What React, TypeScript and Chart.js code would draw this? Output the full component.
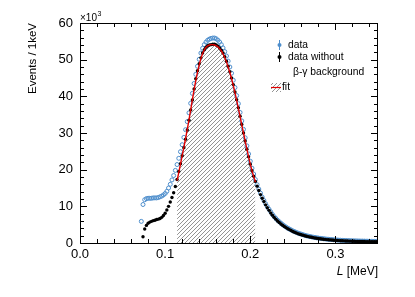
import React, { useEffect, useRef } from "react";
import { Chart, registerables } from "chart.js";

Chart.register(...registerables);

const FONT = "'Liberation Sans', Arial, Helvetica, sans-serif";

// bins of 2 keV, first bin centre at L = 0.072 MeV
const BIN_START = 0.072;
const BIN_WIDTH = 0.002;

// "data" (with β-γ background), in units of 10^3 events / 1keV
const dataWithBg: number[] = [
  5.9, 10.5, 11.8, 12.1, 12.2, 12.2, 12.2, 12.3, 12.3, 12.3,
  12.4, 12.6, 12.8, 13.1, 13.5, 14.1, 15.0, 16.0, 17.2, 18.4,
  19.8, 21.4, 23.1, 24.9, 26.8, 28.8, 30.9, 33.1, 35.5, 38.1,
  40.8, 43.5, 46.0, 48.2, 50.1, 51.8, 53.1, 54.1, 54.8, 55.3,
  55.6, 55.8, 55.9, 55.9, 55.7, 55.3, 54.8, 54.1, 53.2, 52.2,
  51.0, 49.6, 48.0, 46.3, 44.4, 42.4, 40.2, 38.0, 35.6, 33.3,
  31.0, 28.7, 26.5, 24.3, 22.3, 20.4, 18.8, 17.3, 15.9, 14.7,
  13.6, 12.5, 11.6, 10.7, 9.9, 9.2, 8.5, 7.8, 7.2, 6.7,
  6.2, 5.8, 5.4, 5.0, 4.65, 4.35, 4.05, 3.8, 3.55, 3.3,
  3.1, 2.9, 2.7, 2.55, 2.4, 2.25, 2.1, 1.98, 1.87, 1.77,
  1.67, 1.58, 1.5, 1.42, 1.35, 1.28, 1.22, 1.16, 1.1, 1.05,
  1.0, 0.96, 0.92, 0.88, 0.84, 0.81, 0.78, 0.75, 0.72, 0.7,
  0.68, 0.66, 0.64, 0.62, 0.6, 0.58, 0.57, 0.55, 0.54, 0.53,
  0.52, 0.51, 0.5, 0.49, 0.48, 0.47, 0.46, 0.45, 0.45, 0.44,
];

// "data without β-γ background"
const dataNoBg: (number | null)[] = [
  null, 1.7, 3.8, 4.8, 5.4, 5.7, 5.9, 6.1, 6.2, 6.4,
  6.5, 6.7, 7.0, 7.5, 8.1, 9.0, 10.0, 11.2, 12.4, 13.7,
  15.4, 17.3, 19.5, 21.6, 23.8, 26.0, 28.3, 30.8, 33.5, 36.3,
  39.0, 42.0, 44.8, 47.0, 48.9, 50.5, 51.8, 52.7, 53.4, 53.8,
  54.0, 54.1, 54.2, 54.2, 54.0, 53.7, 53.2, 52.6, 51.8, 50.8,
  49.6, 48.2, 46.7, 45.0, 43.2, 41.2, 39.1, 36.9, 34.6, 32.3,
  30.0, 27.8, 25.6, 23.5, 21.5, 19.7, 18.2, 16.8, 15.5, 14.3,
  13.2, 12.2, 11.3, 10.4, 9.6, 8.9, 8.2, 7.6, 7.0, 6.5,
  6.0, 5.6, 5.2, 4.85, 4.5, 4.2, 3.9, 3.65, 3.4, 3.15,
  2.95, 2.75, 2.55, 2.4, 2.25, 2.1, 1.97, 1.85, 1.74, 1.64,
  1.55, 1.46, 1.38, 1.3, 1.23, 1.16, 1.1, 1.04, 0.98, 0.93,
  0.88, 0.84, 0.8, 0.76, 0.72, 0.69, 0.66, 0.63, 0.6, 0.58,
  0.56, 0.54, 0.52, 0.5, 0.48, 0.46, 0.45, 0.43, 0.42, 0.41,
  0.4, 0.39, 0.38, 0.37, 0.36, 0.35, 0.34, 0.33, 0.33, 0.32,
];

// fit curve, from L = 0.114 to 0.206 MeV in 2 keV steps
const FIT_START = 0.114;
const fitValues: number[] = [
  17.0, 19.2, 21.5, 23.8, 26.1, 28.5, 31.0, 33.6, 36.3, 39.1,
  41.8, 44.3, 46.6, 48.6, 50.3, 51.7, 52.7, 53.4, 53.8, 54.0,
  54.1, 54.1, 54.0, 53.8, 53.5, 53.0, 52.4, 51.6, 50.6, 49.4,
  48.0, 46.5, 44.8, 43.0, 41.0, 38.9, 36.7, 34.5, 32.2, 30.0,
  27.8, 25.6, 23.5, 21.5, 19.7, 18.1, 16.6,
];

const xTickValues = [0, 0.1, 0.2, 0.3];
const yTickValues = [0, 10, 20, 30, 40, 50, 60];

const BLUE = "rgb(78,142,204)";
const RED = "rgb(225,0,0)";

function makeHatch(): CanvasPattern | string {
  const s = 4;
  const c = document.createElement("canvas");
  c.width = s;
  c.height = s;
  const g = c.getContext("2d");
  if (!g) return "rgba(128,128,128,0.4)";
  g.strokeStyle = "rgb(120,120,120)";
  g.lineWidth = 0.8;
  g.beginPath();
  g.moveTo(0, s);
  g.lineTo(s, 0);
  g.moveTo(-1, 1);
  g.lineTo(1, -1);
  g.moveTo(s - 1, s + 1);
  g.lineTo(s + 1, s - 1);
  g.stroke();
  return g.createPattern(c, "repeat") || "rgba(128,128,128,0.4)";
}

export default function App() {
  const ref = useRef<HTMLCanvasElement | null>(null);

  useEffect(() => {
    const canvas = ref.current;
    if (!canvas) return;
    const hatch = makeHatch();

    const toPts = (arr: (number | null)[], start: number) =>
      arr
        .map((y, i) => ({ x: +(start + i * BIN_WIDTH).toFixed(4), y }))
        .filter((p) => p.y !== null) as { x: number; y: number }[];

    const withBg = toPts(dataWithBg, BIN_START);
    const noBg = toPts(dataNoBg, BIN_START);
    const fit = toPts(fitValues, FIT_START);

    const framePlugin = {
      id: "rootFrame",
      afterDatasetsDraw(chart: any) {
        const ctx = chart.ctx as CanvasRenderingContext2D;
        const { left, right, top, bottom } = chart.chartArea;
        const xs = chart.scales.x;
        const ys = chart.scales.y;
        ctx.save();
        ctx.strokeStyle = "#000";
        ctx.lineWidth = 1;
        ctx.beginPath();
        for (let i = 0; i <= 17; i++) {
          const v = i * 0.02;
          const len = i % 5 === 0 ? 7 : 4;
          const px = Math.round(xs.getPixelForValue(v)) + 0.5;
          ctx.moveTo(px, bottom);
          ctx.lineTo(px, bottom - len);
          ctx.moveTo(px, top);
          ctx.lineTo(px, top + len);
        }
        for (let i = 0; i <= 30; i++) {
          const v = i * 2;
          const len = i % 5 === 0 ? 7 : 4;
          const py = Math.round(ys.getPixelForValue(v)) + 0.5;
          ctx.moveTo(left, py);
          ctx.lineTo(left + len, py);
          ctx.moveTo(right, py);
          ctx.lineTo(right - len, py);
        }
        ctx.stroke();
        ctx.strokeRect(left + 0.5, top + 0.5, right - left - 1, bottom - top);
        ctx.restore();
      },
      afterDraw(chart: any) {
        const ctx = chart.ctx as CanvasRenderingContext2D;
        const { left, right, top } = chart.chartArea;
        ctx.save();
        ctx.fillStyle = "#000";

        // y title
        ctx.save();
        ctx.translate(33, top);
        ctx.rotate(-Math.PI / 2);
        ctx.font = `11.5px ${FONT}`;
        ctx.textAlign = "right";
        ctx.textBaseline = "middle";
        ctx.fillText("Events / 1keV", 0, 0);
        ctx.restore();

        // x title
        ctx.font = `12px ${FONT}`;
        ctx.textAlign = "right";
        ctx.textBaseline = "alphabetic";
        const rest = " [MeV]";
        ctx.fillText(rest, right, 275);
        const w = ctx.measureText(rest).width;
        ctx.font = `italic 12px ${FONT}`;
        ctx.fillText("L", right - w, 275);

        // exponent
        ctx.textAlign = "left";
        ctx.font = `10px ${FONT}`;
        ctx.fillText("\u00d710", left, 21);
        const wx = ctx.measureText("\u00d710").width;
        ctx.font = `7px ${FONT}`;
        ctx.fillText("3", left + wx + 0.5, 16);

        // legend
        ctx.font = `10.3px ${FONT}`;
        ctx.textBaseline = "middle";
        ctx.textAlign = "left";
        // data
        ctx.strokeStyle = BLUE;
        ctx.lineWidth = 1;
        ctx.beginPath();
        ctx.moveTo(279.5, 40);
        ctx.lineTo(279.5, 50);
        ctx.stroke();
        ctx.fillStyle = BLUE;
        ctx.beginPath();
        ctx.arc(279.5, 45, 2, 0, Math.PI * 2);
        ctx.fill();
        ctx.fillStyle = "#000";
        ctx.fillText("data", 288, 45);
        // data without
        ctx.strokeStyle = "#000";
        ctx.beginPath();
        ctx.moveTo(279.5, 52);
        ctx.lineTo(279.5, 62);
        ctx.stroke();
        ctx.beginPath();
        ctx.arc(279.5, 57, 2, 0, Math.PI * 2);
        ctx.fill();
        ctx.fillText("data without", 288, 57);
        ctx.fillText("\u03b2-\u03b3 background", 293, 72.5);
        // fit
        ctx.fillStyle = hatch as any;
        ctx.fillRect(271, 83, 10, 9);
        ctx.strokeStyle = RED;
        ctx.lineWidth = 1.2;
        ctx.beginPath();
        ctx.moveTo(271, 87.5);
        ctx.lineTo(281, 87.5);
        ctx.stroke();
        ctx.fillStyle = "#000";
        ctx.fillText("fit", 282, 87.5);
        ctx.restore();
      },
    };

    const chart = new Chart(canvas, {
      type: "line",
      data: {
        datasets: [
          {
            label: "fit area",
            data: fit,
            borderWidth: 0,
            pointRadius: 0,
            fill: "origin",
            backgroundColor: hatch as any,
            order: 4,
          },
          {
            label: "data",
            data: withBg,
            showLine: false,
            pointRadius: 2,
            pointBorderWidth: 1,
            pointBorderColor: BLUE,
            pointBackgroundColor: "rgba(255,255,255,0)",
            order: 3,
          },
          {
            label: "data without β-γ background",
            data: noBg,
            showLine: false,
            pointRadius: 1.7,
            pointBorderWidth: 0,
            pointBackgroundColor: "#000",
            order: 2,
          },
          {
            label: "fit",
            data: fit,
            borderColor: RED,
            borderWidth: 1.4,
            pointRadius: 0,
            fill: false,
            order: 1,
          },
        ],
      },
      options: {
        responsive: false,
        animation: false,
        events: [],
        layout: { padding: { left: 0, right: 37, top: 23, bottom: 0 } },
        plugins: {
          legend: { display: false },
          tooltip: { enabled: false },
          title: { display: false },
        },
        scales: {
          x: {
            type: "linear",
            min: 0,
            max: 0.35,
            grid: { display: false, drawTicks: false },
            border: { display: false },
            afterBuildTicks: (s: any) => {
              s.ticks = xTickValues.map((v) => ({ value: v }));
            },
            afterFit: (s: any) => {
              s.height = 54;
            },
            ticks: {
              autoSkip: false,
              maxRotation: 0,
              padding: 4,
              color: "#000",
              font: { family: FONT, size: 13 },
              callback: (v: any) => Number(v).toFixed(1),
            },
          },
          y: {
            type: "linear",
            min: 0,
            max: 60,
            grid: { display: false, drawTicks: false },
            border: { display: false },
            afterBuildTicks: (s: any) => {
              s.ticks = yTickValues.map((v) => ({ value: v }));
            },
            afterFit: (s: any) => {
              s.width = 80;
            },
            ticks: {
              padding: 7,
              color: "#000",
              font: { family: FONT, size: 13 },
              callback: (v: any) => String(v),
            },
          },
        },
      },
      plugins: [framePlugin],
    } as any);

    return () => chart.destroy();
  }, []);

  return (
    <div style={{ position: "absolute", left: 0, top: 0, width: 415, height: 297 }}>
      <canvas ref={ref} width={415} height={297} style={{ display: "block" }} />
    </div>
  );
}
